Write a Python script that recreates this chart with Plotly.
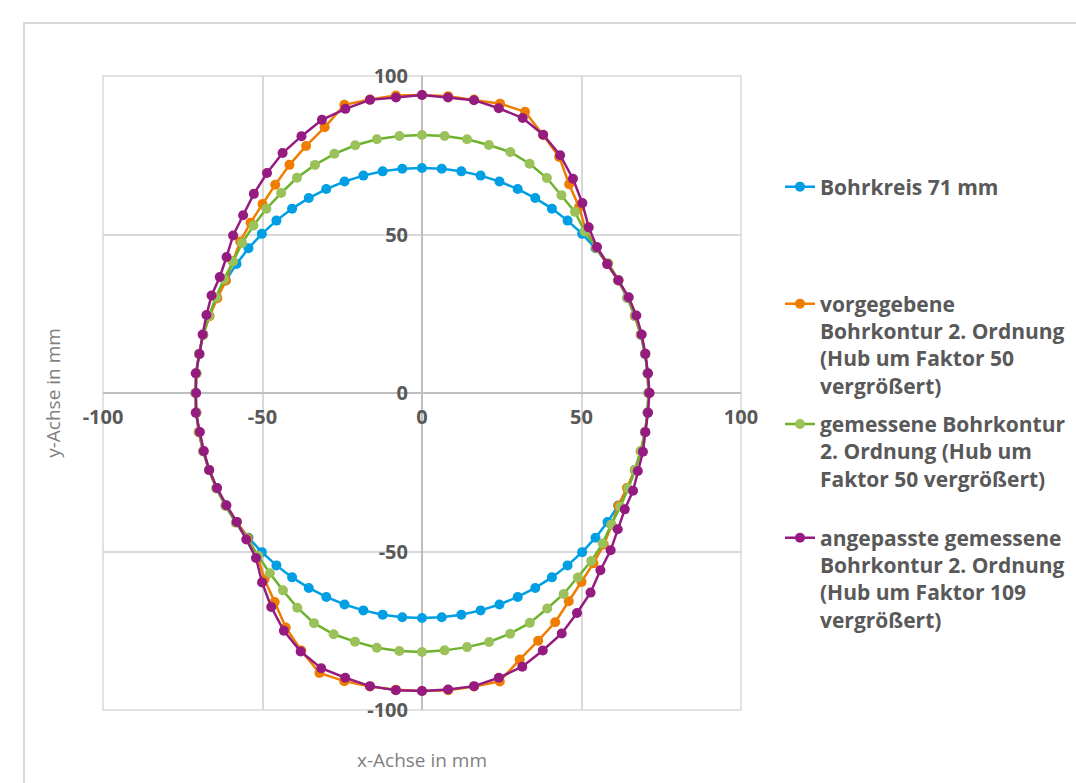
import numpy as np
import plotly.graph_objects as go

# Polar sampling of the contours (degrees, 5° steps, closed at 360°)
ANGLES_DEG = list(range(0, 365, 5))

# Radius in mm at each angle
BOHRKREIS_R = [
    71.0, 71.0, 71.0, 71.0, 71.0, 71.0, 71.0, 71.0, 71.0, 71.0, 71.0, 71.0,
    71.0, 71.0, 71.0, 71.0, 71.0, 71.0, 71.0, 71.0, 71.0, 71.0, 71.0, 71.0,
    71.0, 71.0, 71.0, 71.0, 71.0, 71.0, 71.0, 71.0, 71.0, 71.0, 71.0, 71.0,
    71.0, 71.0, 71.0, 71.0, 71.0, 71.0, 71.0, 71.0, 71.0, 71.0, 71.0, 71.0,
    71.0, 71.0, 71.0, 71.0, 71.0, 71.0, 71.0, 71.0, 71.0, 71.0, 71.0, 71.0,
    71.0, 71.0, 71.0, 71.0, 71.0, 71.0, 71.0, 71.0, 71.0, 71.0, 71.0, 71.0,
    71.0,
]

VORGEGEBEN_R = [
    71.0, 71.0, 71.1, 71.0, 71.0, 71.1, 71.0, 70.9, 71.3, 72.6, 76.6, 80.4,
    86.0, 89.8, 94.4, 94.5, 94.0, 94.0, 94.0, 94.2, 94.0, 94.1, 89.2, 86.0,
    83.1, 80.2, 77.8, 76.0, 74.4, 72.5, 71.0, 70.8, 70.9, 71.0, 71.0, 71.0,
    71.0, 71.0, 71.1, 71.0, 71.0, 71.0, 71.0, 70.9, 71.3, 72.8, 76.8, 80.5,
    85.4, 89.6, 94.0, 94.1, 94.0, 94.0, 94.0, 94.1, 94.0, 94.2, 89.5, 86.2,
    83.5, 80.2, 77.8, 76.0, 74.4, 72.6, 71.1, 70.9, 71.0, 71.0, 71.0, 71.0,
    71.0,
]

GEMESSEN_R = [
    71.0, 71.0, 71.0, 71.1, 71.1, 71.2, 71.2, 71.3, 71.4, 72.1, 74.6, 76.2,
    78.3, 79.8, 80.9, 81.0, 81.3, 81.4, 81.4, 81.4, 81.3, 80.9, 80.3, 79.4,
    78.4, 77.0, 75.9, 74.7, 73.6, 72.3, 71.7, 71.3, 71.1, 71.0, 71.0, 71.0,
    71.0, 71.0, 71.0, 71.1, 71.1, 71.2, 71.2, 71.3, 71.7, 72.6, 74.2, 76.0,
    78.2, 80.1, 81.0, 81.2, 81.6, 81.7, 81.7, 81.5, 81.4, 81.3, 80.8, 80.0,
    78.5, 77.4, 76.0, 75.0, 73.9, 72.4, 71.8, 71.3, 71.1, 71.0, 71.0, 71.0,
    71.0,
]

ANGEPASST_R = [
    71.3, 71.1, 71.1, 71.3, 71.5, 71.5, 71.1, 70.9, 71.6, 73.9, 78.2, 82.5,
    86.6, 89.9, 92.3, 93.0, 93.8, 93.6, 94.0, 93.6, 93.9, 92.8, 91.7, 89.4,
    87.4, 84.7, 82.0, 79.3, 77.3, 74.8, 73.2, 72.8, 71.9, 71.2, 70.8, 71.2,
    70.8, 71.2, 70.7, 70.8, 71.0, 70.9, 70.8, 70.9, 71.9, 73.6, 78.0, 82.4,
    86.6, 90.0, 92.4, 93.0, 93.9, 94.1, 94.0, 93.9, 93.9, 93.0, 91.9, 89.6,
    87.6, 84.7, 82.2, 79.1, 77.2, 74.9, 73.4, 73.0, 72.0, 71.7, 71.1, 71.1,
    71.3,
]

SERIES_NAMES = [
    "Bohrkreis 71 mm",
    "vorgegebene<br>Bohrkontur 2. Ordnung<br>(Hub um Faktor 50<br>vergrößert)",
    "gemessene Bohrkontur<br>2. Ordnung (Hub um<br>Faktor 50 vergrößert)",
    "angepasste gemessene<br>Bohrkontur 2. Ordnung<br>(Hub um Faktor 109<br>vergrößert)",
]
LINE_COLORS = ["#009FE3", "#EF7D00", "#6DB32D", "#951B81"]
MARKER_COLORS = ["#009FE3", "#EF7D00", "#9BC15A", "#951B81"]
LEGEND_IDS = ["legend", "legend2", "legend3", "legend4"]
# vertical centre of each legend block, in container coordinates
LEGEND_Y = [0.7612, 0.5594, 0.4236, 0.2605]

TICK_VALUES = [-100, -50, 0, 50, 100]
TICK_TEXT = ["-100", "-50", "0", "50", "100"]

theta = np.deg2rad(ANGLES_DEG)

fig = go.Figure()
for name, radii, lc, mc, lg in zip(
    SERIES_NAMES,
    [BOHRKREIS_R, VORGEGEBEN_R, GEMESSEN_R, ANGEPASST_R],
    LINE_COLORS, MARKER_COLORS, LEGEND_IDS,
):
    r = np.array(radii)
    fig.add_trace(go.Scatter(
        x=r * np.cos(theta),
        y=r * np.sin(theta),
        name=name,
        mode="lines+markers",
        line=dict(color=lc, width=2.5),
        marker=dict(color=mc, size=10),
        legend=lg,
    ))

grid_color = "#D9D9D9"
tick_font = dict(family="Open Sans", size=20, color="#595959", weight=700)
title_font = dict(family="Open Sans", size=19, color="#7F7F7F")

axis_common = dict(
    range=[-100, 100],
    tickvals=TICK_VALUES,
    ticktext=TICK_TEXT,
    showgrid=True,
    gridcolor=grid_color,
    gridwidth=1.5,
    zeroline=True,
    zerolinecolor="#BFBFBF",
    zerolinewidth=1.5,
    showline=False,
    ticks="",
    tickfont=tick_font,
    anchor="free",
    position=0.5,
    fixedrange=True,
)

fig.update_layout(
    width=1076,
    height=783,
    margin=dict(l=103, r=335, t=76, b=73, autoexpand=False),
    paper_bgcolor="white",
    plot_bgcolor="white",
    font=dict(family="Open Sans", color="#595959"),
    xaxis=dict(
        **axis_common,
        ticklabelstandoff=10,
        title=dict(text="x-Achse in mm", font=title_font, standoff=324),
    ),
    yaxis=dict(
        **axis_common,
        ticklabelstandoff=14,
        title=dict(text="y-Achse in mm", font=title_font, standoff=300),
    ),
    shapes=[
        # plot area border
        dict(type="rect", xref="paper", yref="paper", x0=0, y0=0, x1=1, y1=1,
             line=dict(color=grid_color, width=1.5), layer="below"),
        # chart frame
        dict(type="rect", xref="paper", yref="paper",
             x0=-0.1238, y0=-0.2, x1=1.6, y1=1.0836,
             line=dict(color=grid_color, width=2), layer="below"),
    ],
    showlegend=True,
)

legend_font = dict(family="Open Sans", size=21, color="#595959", weight=700)
for lg, ly in zip(LEGEND_IDS, LEGEND_Y):
    fig.update_layout({lg: dict(
        x=0.7249, xanchor="left", xref="container",
        y=ly, yanchor="middle", yref="container",
        font=legend_font, valign="top", itemwidth=30,
        bgcolor="rgba(0,0,0,0)", borderwidth=0,
    )})

fig.write_html("out.html")
